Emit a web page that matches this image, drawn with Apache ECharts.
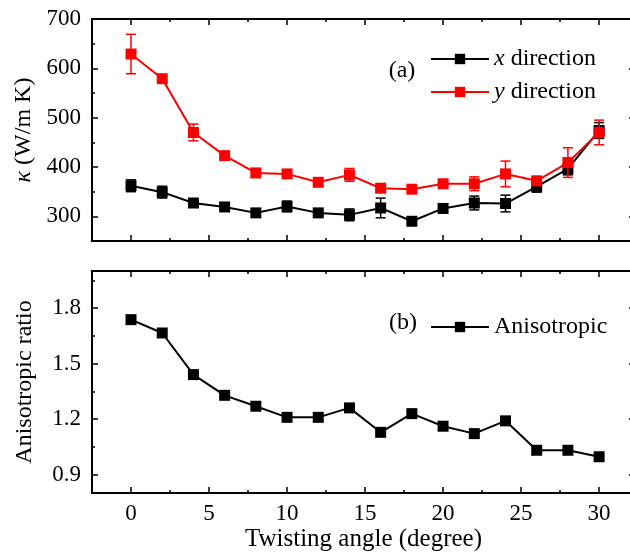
<!DOCTYPE html>
<html>
<head>
<meta charset="utf-8">
<script src="https://cdn.jsdelivr.net/npm/echarts@6/dist/echarts.min.js"></script>
<style>
html, body { margin: 0; padding: 0; background: #fff; }
#chart { width: 630px; height: 558px; }
</style>
</head>
<body>
<div id="chart"></div>
<script>
const angles = [0, 2, 4, 6, 8, 10, 12, 14, 16, 18, 20, 22, 24, 26, 28, 30];
const kappaX = [362, 349, 327, 319, 307, 320, 307, 303, 317, 290, 316, 327, 326, 360, 396, 474];
const kappaXErr = [12, 12, 5, 5, 5, 11, 5, 12, 20, 5, 5, 14, 17, 11, 12, 16];
const kappaY = [629, 579, 470, 423, 388, 386, 369, 384, 357, 355, 366, 366, 386, 372, 409, 470];
const kappaYErr = [40, 5, 17, 5, 6, 5, 5, 13, 5, 5, 5, 14, 26, 6, 30, 25];
const ratio = [1.737, 1.665, 1.44, 1.328, 1.269, 1.209, 1.209, 1.26, 1.128, 1.229, 1.161, 1.121, 1.19, 1.031, 1.031, 0.996];

const angleTicks = [0, 5, 10, 15, 20, 25, 30];
const angleMinor = [2.5, 7.5, 12.5, 17.5, 22.5, 27.5];
const kappaTicks = [300, 400, 500, 600, 700];
const kappaMinor = [250, 350, 450, 550, 650];
const ratioTicks = [0.9, 1.2, 1.5, 1.8];
const ratioMinor = [1.05, 1.35, 1.65, 1.95];

const font = 'Liberation Serif';
const chart = echarts.init(document.getElementById('chart'));

// one axis = one set of inward ticks; major and minor ticks are separate axes
function axis(grid, pos, min, max, values, len, withLabels) {
  return {
    type: 'value', gridIndex: grid, position: pos, min: min, max: max,
    axisLine: { show: true, onZero: false, lineStyle: { color: '#000', width: 2 } },
    axisTick: { show: true, inside: true, length: len, customValues: values,
      lineStyle: { color: '#000', width: 1.5 } },
    axisLabel: withLabels
      ? { show: true, customValues: values, color: '#000', fontFamily: font, fontSize: 23, margin: 11 }
      : { show: false },
    splitLine: { show: false },
    nameTextStyle: { color: '#000', fontFamily: font, fontSize: 24 }
  };
}

// the right frame sits just past the picture's edge, as in the original
const xMin = -2.5, xMax = 32.3;
const xAxes = [
  axis(0, 'bottom', xMin, xMax, angleTicks, 6, false),
  Object.assign(axis(1, 'bottom', xMin, xMax, angleTicks, 6, true), {
    name: 'Twisting angle (degree)', nameLocation: 'middle', nameGap: 34
  }),
  axis(0, 'bottom', xMin, xMax, angleMinor, 3, false),
  axis(1, 'bottom', xMin, xMax, angleMinor, 3, false),
  axis(0, 'top', xMin, xMax, angleTicks, 6, false),
  axis(0, 'top', xMin, xMax, angleMinor, 3, false),
  axis(1, 'top', xMin, xMax, angleTicks, 6, false),
  axis(1, 'top', xMin, xMax, angleMinor, 3, false)
];
xAxes[1].axisLabel.margin = 9;
xAxes[1].nameTextStyle.fontSize = 25;

const topY = axis(0, 'left', 250, 700, kappaTicks, 6, true);
topY.name = '{i|κ} (W/m K)';
topY.nameLocation = 'middle';
topY.nameGap = 55;
topY.nameTextStyle.rich = { i: { fontStyle: 'italic', fontFamily: font, fontSize: 24, color: '#000' } };
const botY = axis(1, 'left', 0.8, 2.0, ratioTicks, 6, true);
botY.name = 'Anisotropic ratio';
botY.nameLocation = 'middle';
botY.nameGap = 55;
botY.axisLabel.formatter = v => v.toFixed(1);

const yAxes = [
  topY, botY,
  axis(0, 'left', 250, 700, kappaMinor, 3, false),
  axis(1, 'left', 0.8, 2.0, ratioMinor, 3, false),
  axis(0, 'right', 250, 700, kappaTicks, 6, false),
  axis(0, 'right', 250, 700, kappaMinor, 3, false),
  axis(1, 'right', 0.8, 2.0, ratioTicks, 6, false),
  axis(1, 'right', 0.8, 2.0, ratioMinor, 3, false)
];

function errorBars(values, errs, color, z) {
  return {
    type: 'custom', xAxisIndex: 0, yAxisIndex: 0, z: z, silent: true,
    data: angles.map((a, i) => [a, values[i] - errs[i], values[i] + errs[i]]),
    renderItem: function (params, api) {
      const lo = api.coord([api.value(0), api.value(1)]);
      const hi = api.coord([api.value(0), api.value(2)]);
      const w = 5;
      const st = { stroke: color, lineWidth: 1.5 };
      return {
        type: 'group', children: [
          { type: 'line', shape: { x1: lo[0], y1: lo[1], x2: hi[0], y2: hi[1] }, style: st },
          { type: 'line', shape: { x1: lo[0] - w, y1: lo[1], x2: lo[0] + w, y2: lo[1] }, style: st },
          { type: 'line', shape: { x1: hi[0] - w, y1: hi[1], x2: hi[0] + w, y2: hi[1] }, style: st }
        ]
      };
    }
  };
}

function lineSeries(name, values, color, xi, yi, z) {
  return {
    name: name, type: 'line', xAxisIndex: xi, yAxisIndex: yi, z: z,
    data: angles.map((a, i) => [a, values[i]]),
    symbol: 'rect', symbolSize: 11,
    lineStyle: { color: color, width: 2 },
    itemStyle: { color: color },
    emphasis: { disabled: true }
  };
}

const legendText = {
  color: '#000', fontFamily: font, fontSize: 24,
  rich: { i: { fontStyle: 'italic', fontFamily: font, fontSize: 24, color: '#000' } }
};

const option = {
  backgroundColor: '#fff',
  animation: false,
  grid: [
    { left: 92, width: 543, top: 19, height: 222, outerBoundsMode: 'none', containLabel: false },
    { left: 92, width: 543, top: 271, height: 222, outerBoundsMode: 'none', containLabel: false }
  ],
  xAxis: xAxes,
  yAxis: yAxes,
  legend: [
    {
      data: ['x direction', 'y direction'], orient: 'vertical', left: 425, top: 42,
      itemWidth: 58, itemHeight: 13, itemGap: 9,
      formatter: n => n === 'x direction' ? '{i|x} direction' : '{i|y} direction',
      textStyle: legendText, selectedMode: false
    },
    {
      data: ['Anisotropic'], orient: 'vertical', left: 425, top: 310,
      itemWidth: 58, itemHeight: 13,
      textStyle: legendText, selectedMode: false
    }
  ],
  graphic: [
    { type: 'text', x: 402, y: 71, style: { text: '(a)', font: '24px "Liberation Serif"', fill: '#000', align: 'center', verticalAlign: 'middle' } },
    { type: 'text', x: 403, y: 323, style: { text: '(b)', font: '24px "Liberation Serif"', fill: '#000', align: 'center', verticalAlign: 'middle' } }
  ],
  series: [
    errorBars(kappaX, kappaXErr, '#000', 2),
    lineSeries('x direction', kappaX, '#000', 0, 0, 3),
    errorBars(kappaY, kappaYErr, '#ff0000', 4),
    lineSeries('y direction', kappaY, '#ff0000', 0, 0, 5),
    lineSeries('Anisotropic', ratio, '#000', 1, 1, 3)
  ]
};
chart.setOption(option);
</script>
</body>
</html>
